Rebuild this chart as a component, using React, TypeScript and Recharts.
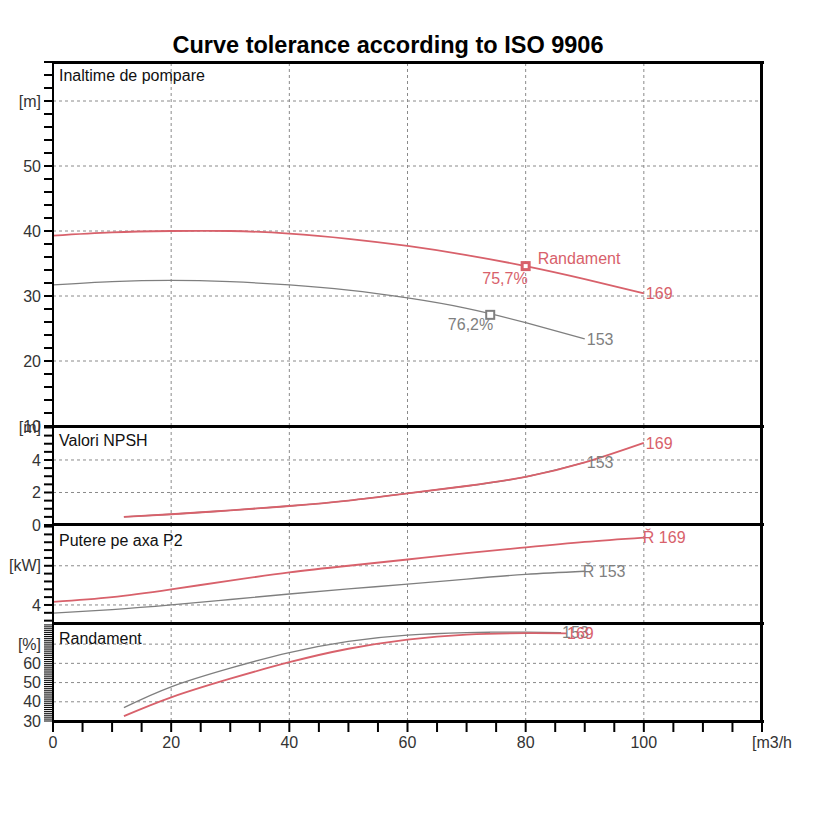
import React from 'react';
import { LineChart, Line, XAxis, YAxis, ReferenceLine, ReferenceDot } from 'recharts';

const FONT = '"Liberation Sans", Arial, sans-serif';
const RED = '#d8616b';
const GRAY = '#7f7f7f';
const GRID = '#8a8a8a';
const TICK_TEXT = '#333';

// ---------- X axis ----------
const xDomain = [0, 120];
const xTicks = [0, 5, 10, 15, 20, 25, 30, 35, 40, 45, 50, 55, 60, 65, 70, 75, 80, 85, 90, 95, 100, 105, 110, 115, 120];
const xLabels: Record<number, string> = { 0: '0', 20: '20', 40: '40', 60: '60', 80: '80', 100: '100', 120: '[m3/h' };
const xGrid = [20, 40, 60, 80, 100];

// ---------- Head (Inaltime de pompare) ----------
const headFlow169 = [0, 10, 20, 30, 40, 50, 60, 70, 80, 90, 100];
const head169 = [39.3, 39.8, 40.0, 40.0, 39.6, 38.8, 37.7, 36.3, 34.6, 32.6, 30.4];
const headFlow153 = [0, 10, 20, 30, 40, 50, 60, 70, 80, 90];
const head153 = [31.7, 32.2, 32.4, 32.2, 31.7, 30.9, 29.7, 28.1, 25.9, 23.4];
const headDomain = [10, 66];
const headTicks = [10, 12, 14, 16, 18, 20, 22, 24, 26, 28, 30, 32, 34, 36, 38, 40, 42, 44, 46, 48, 50, 52, 54, 56, 58, 60, 62, 64, 66];
const headLabels: Record<number, string> = { 10: '10', 20: '20', 30: '30', 40: '40', 50: '50', 60: '[m]' };
const headGrid = [20, 30, 40, 50, 60];
const bep169 = { q: 80, h: 34.6, eff: '75,7%' };
const bep153 = { q: 74, h: 27.1, eff: '76,2%' };

// ---------- NPSH ----------
const npshFlow169 = [12, 20, 30, 40, 50, 60, 70, 80, 90, 100];
const npsh169 = [0.5, 0.66, 0.9, 1.17, 1.5, 1.94, 2.4, 2.96, 3.85, 5.05];
const npshFlow153 = [12, 20, 30, 40, 50, 60, 70, 80, 90];
const npsh153 = [0.5, 0.66, 0.9, 1.17, 1.5, 1.94, 2.4, 2.96, 3.85];
const npshDomain = [0, 6.09];
const npshTicks = [0, 0.5, 1, 1.5, 2, 2.5, 3, 3.5, 4, 4.5, 5, 5.5, 6];
const npshLabels: Record<string, string> = { '0': '0', '2': '2', '4': '4', '6': '[m]' };
const npshGrid = [2, 4];

// ---------- Power P2 ----------
const powFlow169 = [0, 10, 20, 30, 40, 50, 60, 70, 80, 90, 100];
const pow169 = [4.08, 4.2, 4.4, 4.62, 4.83, 5.0, 5.16, 5.32, 5.47, 5.61, 5.72];
const powFlow153 = [0, 10, 20, 30, 40, 50, 60, 70, 80, 90];
const pow153 = [3.79, 3.88, 4.0, 4.14, 4.28, 4.41, 4.53, 4.66, 4.78, 4.86];
const powDomain = [3.54, 6.04];
const powTicks = [3.6, 3.8, 4.0, 4.2, 4.4, 4.6, 4.8, 5.0, 5.2, 5.4, 5.6, 5.8, 6.0];
const powLabels: Record<string, string> = { '4': '4', '5': '[kW]' };
const powGrid = [4, 5];

// ---------- Efficiency (Randament) ----------
const effFlow169 = [12, 20, 30, 40, 50, 60, 70, 80, 87];
const eff169 = [32.5, 42.3, 52.0, 60.6, 67.6, 72.4, 75.0, 75.7, 75.6];
const effFlow153 = [12, 20, 30, 40, 50, 60, 70, 74, 80, 86];
const eff153 = [37.0, 47.8, 57.5, 65.6, 71.4, 74.7, 76.0, 76.2, 76.2, 76.0];
const effDomain = [30, 81];
const effTicks = [30, 31, 32, 33, 34, 35, 36, 37, 38, 39, 40, 41, 42, 43, 44, 45, 46, 47, 48, 49, 50, 51, 52, 53, 54, 55, 56, 57, 58, 59, 60, 61, 62, 63, 64, 65, 66, 67, 68, 69, 70, 71, 72, 73, 74, 75, 76, 77, 78, 79, 80];
const effLabels: Record<number, string> = { 30: '30', 40: '40', 50: '50', 60: '60', 70: '[%]' };
const effGrid = [40, 50, 60, 70];

const toData = (qs: number[], vs: number[]) => qs.map((q, i) => ({ q, v: vs[i] }));
const fmt = (labels: Record<string, string>) => (v: number) => {
  const k = String(Math.round(v * 100) / 100);
  return labels[k] ?? '';
};

const LEFT = 53;
const RIGHT = 762;
const W = 820;
const MT = 10;

const yAxisProps = {
  type: 'number' as const,
  width: LEFT,
  interval: 0 as const,
  tickSize: 9,
  tickMargin: 3,
  allowDataOverflow: true,
  axisLine: { stroke: '#000', strokeWidth: 2 },
  tickLine: { stroke: '#000', strokeWidth: 2 },
  tick: { fill: TICK_TEXT, fontSize: 16, fontFamily: FONT },
};

const endLabel = (text: string, color: string, dx: number) => (p: any) => (
  <text x={p.cx + dx} y={p.cy} dy="0.35em" fill={color} fontSize={16} fontFamily={FONT}>
    {text}
  </text>
);

function gridLines(ys: number[]) {
  return [
    ...xGrid.map((x) => (
      <ReferenceLine key={'gx' + x} x={x} stroke={GRID} strokeDasharray="3 3" strokeWidth={1} />
    )),
    ...ys.map((y) => (
      <ReferenceLine key={'gy' + y} y={y} stroke={GRID} strokeDasharray="3 3" strokeWidth={1} />
    )),
  ];
}

const XTick = (p: any) => {
  const v = p.payload.value;
  const lbl = xLabels[v];
  if (!lbl) return null;
  return (
    <text
      x={v === 120 ? p.x - 10 : p.x}
      y={p.y}
      dy="0.71em"
      textAnchor={v === 120 ? 'start' : 'middle'}
      fill={TICK_TEXT}
      fontSize={16}
      fontFamily={FONT}
    >
      {lbl}
    </text>
  );
};

const panelTitle = (text: string, mid: number) => (
  <div
    style={{
      position: 'absolute',
      left: 59,
      top: mid - 8,
      fontFamily: FONT,
      fontSize: 16,
      lineHeight: '16px',
      color: '#111',
      whiteSpace: 'nowrap',
    }}
  >
    {text}
  </div>
);

const hLine = (top: number, thick: number) => (
  <div style={{ position: 'absolute', left: LEFT, top, width: RIGHT - LEFT + 2, height: thick, background: '#000' }} />
);

const lineProps = { dataKey: 'v', type: 'natural' as const, dot: false, isAnimationActive: false };

export default function App() {
  const headTop = 62, headBot = 426;
  const npshTop = 426, npshBot = 525;
  const powTop = 525, powBot = 623;
  const effTop = 623, effBot = 721;
  const margin = { top: MT, right: W - RIGHT, bottom: MT, left: 0 };

  return (
    <div style={{ position: 'absolute', left: 0, top: 0, width: 820, height: 820, background: '#fff' }}>
      <div
        style={{
          position: 'absolute',
          left: 0,
          top: 33,
          width: 776,
          textAlign: 'center',
          fontFamily: FONT,
          fontWeight: 'bold',
          fontSize: 23.5,
          lineHeight: '24px',
          color: '#000',
        }}
      >
        Curve tolerance according to ISO 9906
      </div>

      {/* Head panel */}
      <div style={{ position: 'absolute', left: 0, top: headTop - MT }}>
        <LineChart width={W} height={headBot - headTop + 2 * MT} margin={margin}>
          <XAxis type="number" dataKey="q" domain={xDomain} hide allowDataOverflow />
          <YAxis {...yAxisProps} domain={headDomain} ticks={headTicks} tickFormatter={fmt(headLabels)} />
          {gridLines(headGrid)}
          <Line {...lineProps} data={toData(headFlow153, head153)} stroke={GRAY} strokeWidth={1.3} />
          <Line {...lineProps} data={toData(headFlow169, head169)} stroke={RED} strokeWidth={1.8} />
          <ReferenceDot x={headFlow169[headFlow169.length - 1]} y={head169[head169.length - 1]} shape={endLabel('169', RED, 2)} />
          <ReferenceDot x={headFlow153[headFlow153.length - 1]} y={head153[head153.length - 1]} shape={endLabel('153', GRAY, 2)} />
          <ReferenceDot
            x={bep153.q}
            y={bep153.h}
            shape={(p: any) => (
              <g>
                <rect x={p.cx - 4} y={p.cy - 4} width={8} height={8} fill="#fff" stroke={GRAY} strokeWidth={2} />
                <text x={p.cx + 3} y={p.cy + 10} dy="0.35em" textAnchor="end" fill={GRAY} fontSize={16} fontFamily={FONT}>
                  {bep153.eff}
                </text>
              </g>
            )}
          />
          <ReferenceDot
            x={bep169.q}
            y={bep169.h}
            shape={(p: any) => (
              <g>
                <rect x={p.cx - 3.5} y={p.cy - 3.5} width={7} height={7} fill="#fff" stroke={RED} strokeWidth={3} />
                <text x={p.cx + 12} y={p.cy - 8} dy="0.35em" fill={RED} fontSize={16} fontFamily={FONT}>
                  Randament
                </text>
                <text x={p.cx + 2} y={p.cy + 12} dy="0.35em" textAnchor="end" fill={RED} fontSize={16} fontFamily={FONT}>
                  {bep169.eff}
                </text>
              </g>
            )}
          />
        </LineChart>
      </div>

      {/* NPSH panel */}
      <div style={{ position: 'absolute', left: 0, top: npshTop - MT }}>
        <LineChart width={W} height={npshBot - npshTop + 2 * MT} margin={margin}>
          <XAxis type="number" dataKey="q" domain={xDomain} hide allowDataOverflow />
          <YAxis {...yAxisProps} domain={npshDomain} ticks={npshTicks} tickFormatter={fmt(npshLabels)} />
          {gridLines(npshGrid)}
          <Line {...lineProps} data={toData(npshFlow153, npsh153)} stroke={GRAY} strokeWidth={1.3} />
          <Line {...lineProps} data={toData(npshFlow169, npsh169)} stroke={RED} strokeWidth={1.8} />
          <ReferenceDot x={npshFlow153[npshFlow153.length - 1]} y={npsh153[npsh153.length - 1]} shape={endLabel('153', GRAY, 2)} />
          <ReferenceDot x={npshFlow169[npshFlow169.length - 1]} y={npsh169[npsh169.length - 1]} shape={endLabel('169', RED, 2)} />
        </LineChart>
      </div>

      {/* Power panel */}
      <div style={{ position: 'absolute', left: 0, top: powTop - MT }}>
        <LineChart width={W} height={powBot - powTop + 2 * MT} margin={margin}>
          <XAxis type="number" dataKey="q" domain={xDomain} hide allowDataOverflow />
          <YAxis {...yAxisProps} domain={powDomain} ticks={powTicks} tickFormatter={fmt(powLabels)} />
          {gridLines(powGrid)}
          <Line {...lineProps} data={toData(powFlow153, pow153)} stroke={GRAY} strokeWidth={1.3} />
          <Line {...lineProps} data={toData(powFlow169, pow169)} stroke={RED} strokeWidth={1.8} />
          <ReferenceDot x={powFlow153[powFlow153.length - 1]} y={pow153[pow153.length - 1]} shape={endLabel('Ř 153', GRAY, -2)} />
          <ReferenceDot x={powFlow169[powFlow169.length - 1]} y={pow169[pow169.length - 1]} shape={endLabel('Ř 169', RED, -1)} />
        </LineChart>
      </div>

      {/* Efficiency panel */}
      <div style={{ position: 'absolute', left: 0, top: effTop - MT }}>
        <LineChart width={W} height={effBot - effTop + MT + 40} margin={{ ...margin, bottom: 0 }}>
          <XAxis
            type="number"
            dataKey="q"
            domain={xDomain}
            ticks={xTicks}
            interval={0}
            height={40}
            tickSize={11}
            tickMargin={5}
            axisLine={false}
            tickLine={{ stroke: '#000', strokeWidth: 2 }}
            tick={XTick}
            allowDataOverflow
          />
          <YAxis {...yAxisProps} tickLine={{ stroke: '#000', strokeWidth: 1 }} domain={effDomain} ticks={effTicks} tickFormatter={fmt(effLabels)} />
          {gridLines(effGrid)}
          <Line {...lineProps} data={toData(effFlow153, eff153)} stroke={GRAY} strokeWidth={1.3} />
          <Line {...lineProps} data={toData(effFlow169, eff169)} stroke={RED} strokeWidth={1.8} />
          <ReferenceDot x={effFlow153[effFlow153.length - 1]} y={eff153[eff153.length - 1]} shape={endLabel('153', GRAY, 1)} />
          <ReferenceDot x={effFlow169[effFlow169.length - 1]} y={eff169[eff169.length - 1]} shape={endLabel('169', RED, 0)} />
        </LineChart>
      </div>

      {panelTitle('Inaltime de pompare', 76)}
      {panelTitle('Valori NPSH', 441)}
      {panelTitle('Putere pe axa P2', 541)}
      {panelTitle('Randament', 639)}

      {hLine(61, 3)}
      {hLine(425, 3)}
      {hLine(523, 3)}
      {hLine(622, 3)}
      {hLine(720, 3)}
      <div style={{ position: 'absolute', left: RIGHT - 2, top: 61, width: 3, height: 662, background: '#000' }} />
    </div>
  );
}
